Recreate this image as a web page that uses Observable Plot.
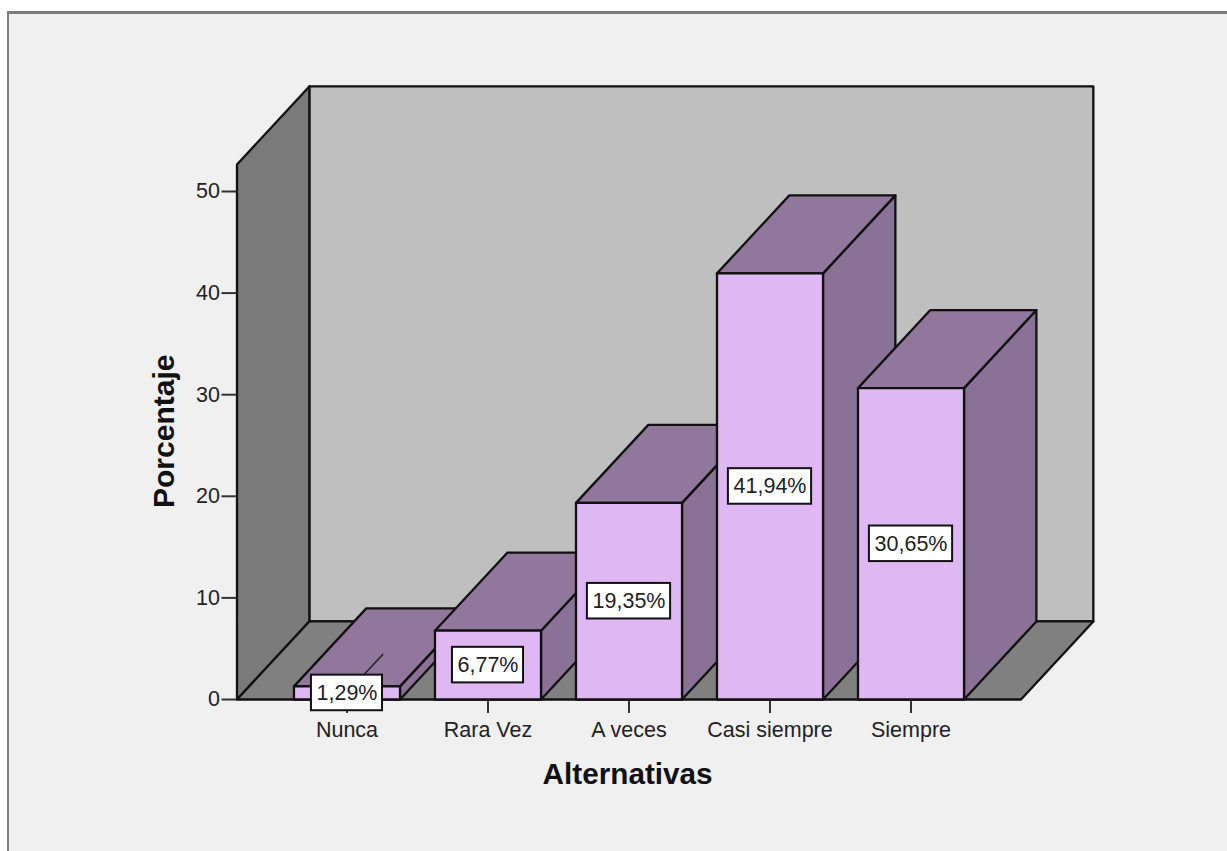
<!DOCTYPE html>
<html>
<head>
<meta charset="utf-8">
<script src="https://cdn.jsdelivr.net/npm/d3@7"></script>
<script src="https://cdn.jsdelivr.net/npm/@observablehq/plot@0.6"></script>
<style>
  html, body { margin: 0; padding: 0; background: #ffffff; overflow: hidden; }
  #panel {
    position: absolute; left: 7px; top: 11px; right: 0; bottom: 0;
    background: #f0f0f0; border-left: 2px solid #7f7f7f; border-top: 3px solid #7f7f7f;
  }
  #chart { position: absolute; left: 0; top: 0; }
</style>
</head>
<body>
<div id="panel"></div>
<div id="chart"></div>
<script>
const categories = ["Nunca", "Rara Vez", "A veces", "Casi siempre", "Siempre"];
const percentages = [1.29, 6.77, 19.35, 41.94, 30.65];
const yTicks = [0, 10, 20, 30, 40, 50];

// Extrusion of the pseudo-3D box, in axis units
const depthX = 0.513;
const depthY = 7.68;
const halfBar = 0.376;
const floorLeft = -0.78;
const floorRight = 4.78;
const wallTop = 52.66;

const colors = {
  front: "#dfb8f3", top: "#90779b", side: "#8a7196",
  back: "#bfbfbf", wall: "#7a7a7a", floor: "#808080", ink: "#111111"
};

// Closed outline as a filled line mark
function face(points, fill) {
  const closed = [...points, points[0]];
  return Plot.line(closed, {
    x: "0", y: "1", fill, stroke: colors.ink, strokeWidth: 2.3, strokeLinejoin: "round", curve: "linear"
  });
}

// Back wall, left wall and floor
const room = [
  face([[floorLeft + depthX, depthY], [floorRight + depthX, depthY], [floorRight + depthX, wallTop + depthY], [floorLeft + depthX, wallTop + depthY]], colors.back),
  face([[floorLeft, 0], [floorLeft + depthX, depthY], [floorLeft + depthX, wallTop + depthY], [floorLeft, wallTop]], colors.wall),
  face([[floorLeft, 0], [floorRight, 0], [floorRight + depthX, depthY], [floorLeft + depthX, depthY]], colors.floor)
];

// One box per category, drawn left to right so later bars overlap earlier ones
const bars = percentages.flatMap((v, i) => {
  const l = i - halfBar, r = i + halfBar;
  return [
    face([[r, 0], [r + depthX, depthY], [r + depthX, v + depthY], [r, v]], colors.side),
    face([[l, v], [r, v], [r + depthX, v + depthY], [l + depthX, v + depthY]], colors.top),
    face([[l, 0], [r, 0], [r, v], [l, v]], colors.front)
  ];
});

const formatPct = v => v.toFixed(2).replace(".", ",") + "%";
// Value boxes are sized to the text they hold
const labelHalfW = v => formatPct(v).length > 5 ? 0.295 : 0.252;
const labelHalfH = 1.75;

const chart = Plot.plot({
  width: 1227,
  height: 851,
  marginLeft: 236.5,
  marginRight: 206.5,
  marginTop: 191,
  marginBottom: 152,
  style: { background: "transparent", fontFamily: "Liberation Sans, Arial, sans-serif" },
  x: { type: "linear", domain: [floorLeft, floorRight] },
  y: { type: "linear", domain: [0, 50] },
  marks: [
    ...room,
    Plot.axisY({
      ticks: yTicks, tickSize: 15, tickPadding: 2, fontSize: 21.5, stroke: "#333333", strokeWidth: 2,
      fill: "#222222", label: null, tickFormat: d => String(d)
    }),
    Plot.axisX({
      ticks: d3.range(categories.length), tickSize: 14, tickPadding: 8, fontSize: 21.5, stroke: "#333333", strokeWidth: 2,
      fill: "#222222", label: null, tickFormat: i => categories[i]
    }),
    ...bars,
    // Leader running from the centre of the smallest bar back through its depth
    Plot.link([percentages[0]], {
      x1: () => 0, y1: v => v / 2, x2: () => depthX / 2, y2: v => v / 2 + depthY / 2,
      stroke: "#222222", strokeWidth: 1.5
    }),
    Plot.rect(percentages, {
      x1: (v, i) => i - labelHalfW(v), x2: (v, i) => i + labelHalfW(v),
      y1: v => v / 2 - labelHalfH, y2: v => v / 2 + labelHalfH,
      fill: "#ffffff", stroke: colors.ink, strokeWidth: 2
    }),
    Plot.text(percentages, {
      x: (v, i) => i, y: v => v / 2, text: formatPct, fontSize: 21.5, fill: "#222222"
    }),
    Plot.text(["Alternativas"], {
      x: () => 1.99, frameAnchor: "bottom", dy: 84, text: d => d,
      fontSize: 29.7, fontWeight: "bold", fill: "#111111"
    }),
    Plot.text(["Porcentaje"], {
      y: () => 26.4, frameAnchor: "left", dx: -73, textAnchor: "middle", text: d => d, rotate: -90,
      fontSize: 30, fontWeight: "bold", fill: "#111111"
    })
  ]
});
document.getElementById("chart").appendChild(chart);
</script>
</body>
</html>
